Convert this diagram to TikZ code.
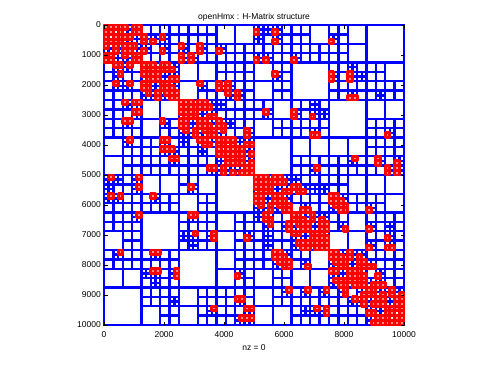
\documentclass[tikz,border=0pt]{standalone}
\usepackage{fontspec}
\setmainfont{Liberation Sans}
\tikzset{
  lrblock/.style={draw=blue, line width=2.4pt},
  fullblock/.style={draw=red, fill=red!45!white, line width=2.9pt, line join=round},
  tickmark/.style={draw=black, line width=0.5pt},
  axlabel/.style={font=\fontsize{8.5}{10}\selectfont, inner sep=0pt, text=black},
}
\newcommand\hmLR[4]{\draw[lrblock] (#1,#2) rectangle (#3,#4);}
\newcommand\hmFull[4]{\draw[fullblock] (#1,#2) rectangle (#3,#4);}

\ExplSyntaxOn
\int_const:Nn \c_hm_n_int { 2048 }
\fp_const:Nn \c_hm_eta_fp { 1 }
\fparray_new:Nn \g_hm_pt_fparray { 3 * 2048 }
\fparray_new:Nn \g_hm_c_fparray { 3 * 128 }
\fparray_new:Nn \g_hm_e_fparray { 3 * 128 }
\fparray_new:Nn \g_hm_r_fparray { 128 }
\fp_new:N \l_hm_z_fp
\fp_new:N \l_hm_rr_fp
\fp_new:N \l_hm_phi_fp
\fp_new:N \l_hm_t_fp
\fp_new:N \l_hm_mnx_fp
\fp_new:N \l_hm_mny_fp
\fp_new:N \l_hm_mnz_fp
\fp_new:N \l_hm_mxx_fp
\fp_new:N \l_hm_mxy_fp
\fp_new:N \l_hm_mxz_fp
\fp_new:N \l_hm_ex_fp
\fp_new:N \l_hm_ey_fp
\fp_new:N \l_hm_ez_fp
\fp_new:N \l_hm_dx_fp
\fp_new:N \l_hm_dy_fp
\fp_new:N \l_hm_dz_fp
\int_new:N \l_hm_dim_int
\int_new:N \l_hm_i_int
\int_new:N \l_hm_half_int
\seq_new:N \l_hm_tmp_seq
\tl_new:N \g_hm_full_tl

\cs_new_protected:Npn \hm_points:
  {
    \seq_gclear_new:c { g_hm_nd_1_seq }
    \int_step_inline:nn { \c_hm_n_int }
      {
        \fp_set:Nn \l_hm_z_fp { 1 - ( 2 * ##1 - 1 ) / \int_use:N \c_hm_n_int }
        \fp_set:Nn \l_hm_rr_fp { sqrt ( 1 - \l_hm_z_fp * \l_hm_z_fp ) }
        \fp_set:Nn \l_hm_phi_fp { ##1 * 2.399963229728653 }
        \fparray_gset:Nnn \g_hm_pt_fparray { 3 * ##1 - 2 } { \l_hm_rr_fp * cos ( \l_hm_phi_fp ) }
        \fparray_gset:Nnn \g_hm_pt_fparray { 3 * ##1 - 1 } { \l_hm_rr_fp * sin ( \l_hm_phi_fp ) }
        \fparray_gset:Nnn \g_hm_pt_fparray { 3 * ##1 } { \l_hm_z_fp }
        \seq_gput_right:cn { g_hm_nd_1_seq } { ##1 }
      }
  }

\cs_new_protected:Npn \hm_box:n #1
  {
    \fp_set:Nn \l_hm_mnx_fp { 10 }
    \fp_set:Nn \l_hm_mny_fp { 10 }
    \fp_set:Nn \l_hm_mnz_fp { 10 }
    \fp_set:Nn \l_hm_mxx_fp { -10 }
    \fp_set:Nn \l_hm_mxy_fp { -10 }
    \fp_set:Nn \l_hm_mxz_fp { -10 }
    \seq_set_eq:Nc \l_hm_tmp_seq { g_hm_nd_#1_seq }
    \seq_map_inline:Nn \l_hm_tmp_seq
      {
        \fp_set:Nn \l_hm_t_fp { \fparray_item:Nn \g_hm_pt_fparray { 3 * ##1 - 2 } }
        \fp_set:Nn \l_hm_mnx_fp { min ( \l_hm_mnx_fp , \l_hm_t_fp ) }
        \fp_set:Nn \l_hm_mxx_fp { max ( \l_hm_mxx_fp , \l_hm_t_fp ) }
        \fp_set:Nn \l_hm_t_fp { \fparray_item:Nn \g_hm_pt_fparray { 3 * ##1 - 1 } }
        \fp_set:Nn \l_hm_mny_fp { min ( \l_hm_mny_fp , \l_hm_t_fp ) }
        \fp_set:Nn \l_hm_mxy_fp { max ( \l_hm_mxy_fp , \l_hm_t_fp ) }
        \fp_set:Nn \l_hm_t_fp { \fparray_item:Nn \g_hm_pt_fparray { 3 * ##1 } }
        \fp_set:Nn \l_hm_mnz_fp { min ( \l_hm_mnz_fp , \l_hm_t_fp ) }
        \fp_set:Nn \l_hm_mxz_fp { max ( \l_hm_mxz_fp , \l_hm_t_fp ) }
      }
    \fparray_gset:Nnn \g_hm_c_fparray { 3 * #1 - 2 } { ( \l_hm_mnx_fp + \l_hm_mxx_fp ) / 2 }
    \fparray_gset:Nnn \g_hm_c_fparray { 3 * #1 - 1 } { ( \l_hm_mny_fp + \l_hm_mxy_fp ) / 2 }
    \fparray_gset:Nnn \g_hm_c_fparray { 3 * #1 } { ( \l_hm_mnz_fp + \l_hm_mxz_fp ) / 2 }
    \fp_set:Nn \l_hm_ex_fp { \l_hm_mxx_fp - \l_hm_mnx_fp }
    \fp_set:Nn \l_hm_ey_fp { \l_hm_mxy_fp - \l_hm_mny_fp }
    \fp_set:Nn \l_hm_ez_fp { \l_hm_mxz_fp - \l_hm_mnz_fp }
    \fparray_gset:Nnn \g_hm_e_fparray { 3 * #1 - 2 } { \l_hm_ex_fp }
    \fparray_gset:Nnn \g_hm_e_fparray { 3 * #1 - 1 } { \l_hm_ey_fp }
    \fparray_gset:Nnn \g_hm_e_fparray { 3 * #1 } { \l_hm_ez_fp }
    \fparray_gset:Nnn \g_hm_r_fparray { #1 }
      { 0.5 * sqrt ( \l_hm_ex_fp * \l_hm_ex_fp + \l_hm_ey_fp * \l_hm_ey_fp + \l_hm_ez_fp * \l_hm_ez_fp ) }
  }

\cs_new:Npn \hm_forced_dim:n #1
  { \int_case:nnF {#1} { {1}{1} {2}{2} {3}{3} {4}{3} {5}{3} {6}{2} {7}{2} } { 0 } }

\cs_new_protected:Npn \hm_build:nn #1#2
  {
    \hm_box:n {#1}
    \int_compare:nNnT {#2} < { 64 }
      {
        \int_set:Nn \l_hm_dim_int { \hm_forced_dim:n {#1} }
        \int_compare:nNnT \l_hm_dim_int = { 0 }
          {
            \fp_set:Nn \l_hm_ex_fp { \fparray_item:Nn \g_hm_e_fparray { 3 * #1 - 2 } }
            \fp_set:Nn \l_hm_ey_fp { \fparray_item:Nn \g_hm_e_fparray { 3 * #1 - 1 } }
            \fp_set:Nn \l_hm_ez_fp { \fparray_item:Nn \g_hm_e_fparray { 3 * #1 } }
            \fp_compare:nNnTF \l_hm_ex_fp < \l_hm_ey_fp
              {
                \fp_compare:nNnTF \l_hm_ey_fp < \l_hm_ez_fp
                  { \int_set:Nn \l_hm_dim_int { 3 } }
                  { \int_set:Nn \l_hm_dim_int { 2 } }
              }
              {
                \fp_compare:nNnTF \l_hm_ex_fp < \l_hm_ez_fp
                  { \int_set:Nn \l_hm_dim_int { 3 } }
                  { \int_set:Nn \l_hm_dim_int { 1 } }
              }
          }
        \seq_set_eq:Nc \l_hm_tmp_seq { g_hm_nd_#1_seq }
        \seq_sort:Nn \l_hm_tmp_seq
          {
            \fp_compare:nNnTF
              { \fparray_item:Nn \g_hm_pt_fparray { 3 * ##1 - 3 + \l_hm_dim_int } }
              >
              { \fparray_item:Nn \g_hm_pt_fparray { 3 * ##2 - 3 + \l_hm_dim_int } }
              { \sort_return_swapped: }
              { \sort_return_same: }
          }
        \int_set:Nn \l_hm_half_int { \int_div_truncate:nn { \seq_count:N \l_hm_tmp_seq } { 2 } }
        \seq_gclear_new:c { g_hm_nd_ \int_eval:n { 2 * #1 } _seq }
        \seq_gclear_new:c { g_hm_nd_ \int_eval:n { 2 * #1 + 1 } _seq }
        \int_zero:N \l_hm_i_int
        \seq_map_inline:Nn \l_hm_tmp_seq
          {
            \int_incr:N \l_hm_i_int
            \int_compare:nNnTF \l_hm_i_int > \l_hm_half_int
              { \seq_gput_right:cn { g_hm_nd_ \int_eval:n { 2 * #1 + 1 } _seq } { ##1 } }
              { \seq_gput_right:cn { g_hm_nd_ \int_eval:n { 2 * #1 } _seq } { ##1 } }
          }
        \hm_build:xx { \int_eval:n { 2 * #1 } } { \int_eval:n { 2 * #2 } }
        \hm_build:xx { \int_eval:n { 2 * #1 + 1 } } { \int_eval:n { 2 * #2 } }
      }
  }
\cs_generate_variant:Nn \hm_build:nn { xx }

\cs_new_protected:Npn \hm_out:Nnnn #1#2#3#4
  {
    \use:x
      {
        \exp_not:N #1
          { \fp_eval:n { 104 + ( #3 - #4 ) * 300 / #4 } }
          { \fp_eval:n { 343 - ( #2 - #4 ) * 300 / #4 } }
          { \fp_eval:n { 104 + ( #3 - #4 + 1 ) * 300 / #4 } }
          { \fp_eval:n { 343 - ( #2 - #4 + 1 ) * 300 / #4 } }
      }
  }
\cs_new_protected:Npn \hm_full:nnn #1#2#3
  {
    \tl_gput_right:Nx \g_hm_full_tl
      {
        \exp_not:N \hmFull
          { \fp_eval:n { 104 + ( #2 - #3 ) * 300 / #3 } }
          { \fp_eval:n { 343 - ( #1 - #3 ) * 300 / #3 } }
          { \fp_eval:n { 104 + ( #2 - #3 + 1 ) * 300 / #3 } }
          { \fp_eval:n { 343 - ( #1 - #3 + 1 ) * 300 / #3 } }
      }
  }

\cs_new_protected:Npn \hm_block:nnn #1#2#3
  {
    \fp_set:Nn \l_hm_dx_fp
      { \fparray_item:Nn \g_hm_c_fparray { 3 * #1 - 2 } - \fparray_item:Nn \g_hm_c_fparray { 3 * #2 - 2 } }
    \fp_set:Nn \l_hm_dy_fp
      { \fparray_item:Nn \g_hm_c_fparray { 3 * #1 - 1 } - \fparray_item:Nn \g_hm_c_fparray { 3 * #2 - 1 } }
    \fp_set:Nn \l_hm_dz_fp
      { \fparray_item:Nn \g_hm_c_fparray { 3 * #1 } - \fparray_item:Nn \g_hm_c_fparray { 3 * #2 } }
    \fp_compare:nNnTF
      { sqrt ( \l_hm_dx_fp * \l_hm_dx_fp + \l_hm_dy_fp * \l_hm_dy_fp + \l_hm_dz_fp * \l_hm_dz_fp ) }
      >
      { \c_hm_eta_fp * ( \fparray_item:Nn \g_hm_r_fparray {#1} + \fparray_item:Nn \g_hm_r_fparray {#2} ) }
      { \hm_out:Nnnn \hmLR {#1} {#2} {#3} }
      {
        \int_compare:nNnTF {#3} < { 64 }
          {
            \hm_block:xxx { \int_eval:n { 2 * #1 } } { \int_eval:n { 2 * #2 } } { \int_eval:n { 2 * #3 } }
            \hm_block:xxx { \int_eval:n { 2 * #1 } } { \int_eval:n { 2 * #2 + 1 } } { \int_eval:n { 2 * #3 } }
            \hm_block:xxx { \int_eval:n { 2 * #1 + 1 } } { \int_eval:n { 2 * #2 } } { \int_eval:n { 2 * #3 } }
            \hm_block:xxx { \int_eval:n { 2 * #1 + 1 } } { \int_eval:n { 2 * #2 + 1 } } { \int_eval:n { 2 * #3 } }
          }
          { \hm_full:nnn {#1} {#2} {#3} }
      }
  }
\cs_generate_variant:Nn \hm_block:nnn { xxx }

\cs_new_protected:Npn \hm_run:
  {
    \hm_points:
    \hm_build:nn { 1 } { 1 }
    \tl_gclear:N \g_hm_full_tl
    \hm_block:nnn { 1 } { 1 } { 1 }
    \tl_use:N \g_hm_full_tl
  }
\cs_new_protected:Npn \hmDrawAll { \hm_run: }
\ExplSyntaxOff

\begin{document}
\begin{tikzpicture}[x=1pt,y=1pt]
\useasboundingbox (0,0) rectangle (491,368);
\fill[white] (0,0) rectangle (491,368);
\coordinate (axSW) at (104,43);
\coordinate (axNE) at (404,343);
\draw[black, line width=0.5pt] (axSW) rectangle (axNE);
\hmDrawAll
\foreach \v in {0,2000,4000,6000,8000,10000} {
  \pgfmathsetmacro\xx{104+0.03*\v}
  \draw[tickmark] (\xx,43) -- (\xx,46.5);
  \draw[tickmark] (\xx,343) -- (\xx,339.5);
  \node[axlabel] (xt\v) at (\xx,33) {\v};
}
\foreach \v in {0,1000,2000,3000,4000,5000,6000,7000,8000,9000,10000} {
  \pgfmathsetmacro\yy{343-0.03*\v}
  \draw[tickmark] (104,\yy) -- (107.5,\yy);
  \draw[tickmark] (404,\yy) -- (400.5,\yy);
  \node[axlabel, anchor=east] (yt\v) at (101,\yy) {\v};
}
\node[axlabel] (title) at (254,350.5) {openHmx : H-Matrix structure};
\node[axlabel] (xlab) at (254,20) {nz = 0};
\end{tikzpicture}
\end{document}
